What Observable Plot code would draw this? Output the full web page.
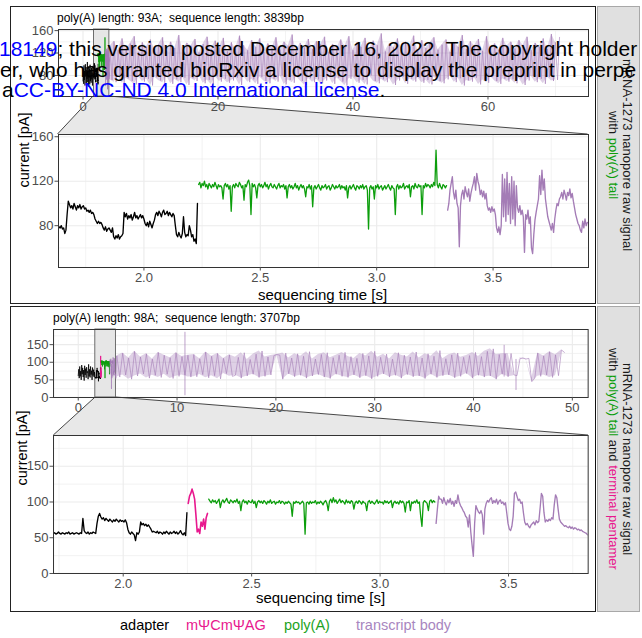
<!DOCTYPE html>
<html><head><meta charset="utf-8">
<script src="https://cdn.jsdelivr.net/npm/d3@7"></script>
<script src="https://cdn.jsdelivr.net/npm/@observablehq/plot@0.6"></script>
<style>
body{margin:0;background:#fff;overflow:hidden;font-family:"Liberation Sans",Arial,sans-serif;}
#root{position:relative;width:642px;height:638px;overflow:hidden;background:#fff;}
.abs{position:absolute;white-space:nowrap;}
</style></head><body><div id="root"></div>
<script>
// ================= DATA =================
const SAMPLE_STEP = 0.005;   // s between samples in the zoomed traces
const PRE_STEP = 0.05;       // s between samples, adapter before zoom window (overview only)
const OVERVIEW_STEP = 0.3;   // s between samples, transcript body after zoom window (overview only)

const segmentLabels = ["adapter", "mΨCmΨAG", "poly(A)", "transcript body"];

// ---- panel 1 : poly(A) 93A ----
const p1Title = "poly(A) length: 93A;  sequence length: 3839bp";
const p1Strip = ["mRNA-1273 nanopore raw signal", "with |poly(A) tail|"];
const p1Window = [1.633, 3.910];
const p1Starts = {pre: 0, adapter: 1.635, polyA: 2.235, body: 3.305, bodyOverview: 4.0};
const p1AdapterPre = [70,92,65,98,72,88,62,100,78,95,66,90,74,104,68,86,60,96,76,92,64,99,70,88,67,94,73,85,62,97,78,80,76];
const p1Adapter = [79,78,80,77,78,73,76, 90,102,
 99,96,98,95,100,97,94,98,96,99,95,97,98,
 95,96,93,94,92,94,91,92,90, 86,84,82, 84,82,83,81,
 78,76,79,75,77,78,76,74,78, 70,68,71,69,72,68,70,71,73, 92,
 88,91,86,89,87,90,85,88,92,87,89,86,88,90,87,89,86,
 82,80,83,79,84,81,78,82,85,
 90,92,89,93,91,88,92,94,90,91,93,89,92,90,88,91,89,
 80,72,70,74,71,69,73, 88, 74,70,72,71,80,76,70,72, 66,68,64, 100];
const p1PolyA = [
 117,119,114,118,116,120,115,117,113,118,116,114,117,115,119,116,113,117,115,116,
 114,104,116,118,115,117,113,116,93,115,117,114,118,116,115,119,117,114,116,103,
 117,115,119,121,116,90,118,115,117,114,105,116,118,115,117,114,116,119,115,117,
 113,116,118,115,114,117,115,113,116,118,114,116,115,117,113,116,105,115,117,114,
 116,113,115,118,114,116,112,115,117,114,116,113,106,115,114,117,113,116,97,114,
 116,113,115,117,114,112,116,114,115,117,113,115,116,112,114,117,115,113,116,114,
 115,117,113,116,114,115,112,116,105,114,116,113,115,117,114,112,116,115,113,116,
 114,117,113,115,116,112,77,114,116,113,115,104,116,114,117,113,115,116,112,114,
 116,113,115,117,114,112,116,114,113,90,115,117,113,116,114,115,118,113,115,116,
 114,117,106,115,116,113,118,115,114,117,115,116,90,116,114,118,115,117,116,114,
 117,115,119,116,148,117,114,118,115,113,117,116,114,116];
const p1Body = [94, 100,112,118, 124, 110,104,112,100,96, 61,
 98,108,112,104,115,110,106,113,102,109,114,
 118,124,112,127,120,116, 108,112,106,111,104,109,
 98,94,96,92,97,93,95,90, 78,74,79,72,80,
 126,88,122,84,128,90,118,82,124,86,120,80,116,
 96,92,98,90,94,88, 56, 90,86,94,82,88, 60,55,72, 85,92,98,104,
 125,108,130,112,122,104, 96,88,84, 80,76,82,74, 86,94,100,98,104,
 106,110,104,112,108,103,110,107,113,105,109,102,
 96,90,86,82,80,76, 74,84,78,86,80,83];
const p1BodyOverview = [
 132,72,141,68,125,80,146,66,128,75,137,70,150,64,122,78,139,69,131,74,
 144,62,127,77,135,71,148,67,124,79,140,65,129,73,152,68,126,76,138,63,
 133,75,145,70,121,81,136,66,149,72,127,64,142,78,130,69,147,74,123,67,
 139,71,128,76,151,63,134,79,125,68,143,73,131,65,146,77,122,70,137,66,
 129,74,148,69,126,80,140,64,133,72,153,67,124,78,138,70,130,63,145,75,
 127,68,141,73,135,66,149,71,122,79,136,65,128,76,144,69,132,62,150,74,
 125,77,139,67,131,72,147,64,126,80,142,70,134,66,155,73,123,68,137,75,
 130,63,146,71,128,78,140,65,133,74,151,69,124,76,143,67,129,72,138,64,
 148,77,126,70,135,66,144,73,122,79,139,68,131,75,152,62,127,71,141,69,
 133,76,145,64,124,72,150,67,130,78,137,70,126,65,147,74,132,69,140,73,
 128,66,143,75,134,63,149,71,125,79,138,68,131,74,146,65,127,77,154,70,
 139,72,148];
const p1Spikes = [];   // [time, low, high]
const p1OverviewX = {domain: [-3.63, 74.89], ticks: [0, 20, 40, 60], minor: [10, 30, 50, 70]};
const p1DetailX = {domain: p1Window, ticks: [2.0, 2.5, 3.0, 3.5], minor: [1.75, 2.25, 2.75, 3.25, 3.75]};
const p1Y = {domain: [42.4, 162], ticks: [80, 120, 160], minor: [60, 100, 140]};

// ---- panel 2 : poly(A) 98A with terminal pentamer ----
const p2Title = "poly(A) length: 98A;  sequence length: 3707bp";
const p2Strip = ["mRNA-1273 nanopore raw signal", "with |poly(A) tail| and ~terminal pentamer~"];
const p2Window = [1.7287, 3.810];
const p2Starts = {pre: 0, adapter: 1.728, pentamer: 2.253, polyA: 2.333, body: 3.218, bodyOverview: 3.9};
const p2AdapterPre = [62,80,55,88,60,75,50,92,66,84,58,78,48,90,64,82,56,86,70,74,52,94,60,80,57,88,65,76,50,85,62,79,58,72,57];
const p2Adapter = [56,57,55,56,58,56,55,57,56,55,57,56,58,55,56,57,55,56,57,56,55,57,56,
 77,60, 57,56,58,55,57,56,58,57,56, 70,80,84,
 79,76,78,74,77,75,73,76,74,72,75,73,76,74,72,75,73,74,72,75,71, 62,
 57,55,58,56,54,46,57,55,58, 72,68,70,67,69,66,68,65, 62,58,59,
 58,57,59,56,58,57,55,58,56,59,57,55,58,56,57,59,56,58,55,57,60,56,54,57, 53,85];
const p2Pentamer = [98,108,112,118,112,104,82,58,62,56,72,66,76,62,78,84];
const p2PolyA = [
 104,101,99,103,100,102,98,101,104,92,100,103,99,102,105,100,98,103,101,99,
 102,100,104,98,101,88,100,103,99,101,97,102,100,99,103,98,101,92,100,102,
 99,101,98,102,100,97,101,99,103,98,100,101,97,100,99,102,98,101,100,97,
 100,98,101,99,97,80,100,98,101,99,100,97,99,101,98,55,99,100,97,101,
 98,100,99,102,97,100,98,101,99,96,100,102,98,88,101,104,99,106,100,103,
 98,101,104,99,102,100,97,103,99,101,98,102,100,90,99,101,98,102,100,97,
 101,99,98,88,100,102,98,101,99,97,100,103,98,101,99,100,97,102,99,101,
 98,100,102,92,99,101,98,100,97,102,99,101,98,86,100,99,102,88,100,98,
 101,99,103,98,100,80,66,99,102,100,98,88,101,103,99,102,100];
const p2Body = [70, 90,108,104, 104,98,106,100,96,103,99,105,97,101,94,102,98, 110,
 100,95,92,88,85,80, 78,65,82,58,40,24,70,95, 90,86,84,88,82, 55,
 90,98,102,100,104, 106,98,102,99,104,97,101,103,98,100,96,99,
 85,70,62, 60,66,80, 112,114,108,102,104, 98,100, 85, 72,68,70,66,64,68,
 70,72,68,74,71,73, 92,112,108,85, 72,75,73,76,74,78,76, 96,110,106,90,76, 72,70,
 68,66,67,65,64,66,63,65,62,64,63,61,62,60,61,59,58,57,56,54];
const p2BodyOverview = [
 118,58,126,64,112,52,131,61,115,67,124,55,109,63,128,57,120,66,113,54,
 127,60,116,64,120,58,122,59,110,65,129,56,117,62,125,53,111,68,121,60,
 63,114,55,127,61,108,66,123,57,132,60,115,64,119,122,120,52,126,67,112,
 59,124,63,117,55,130,61,109,65,122,58,127,54,113,66,120,60,128,57,116,
 64,111,56,125,62,118,53,131,60,114,67,123,58,109,63,127,55,120,65,115,
 59,129,61,112,54,124,66,117,57,133,62,110,64,121,56,126,60,114,68,119,
 55,128,63,116,58,131,61,138,52,122,66,124,59,125,64,62,110,112,109,111,
 45,55,126,60,118,64,130,57,121,62,135,128];
const p2Spikes = [[10.8, 5, 185], [43.1, 58, 148], [44.3, 20, 108]];   // [time, low, high]
const p2OverviewX = {domain: [-2.5, 51.6], ticks: [0, 10, 20, 30, 40, 50], minor: [5, 15, 25, 35, 45]};
const p2DetailX = {domain: p2Window, ticks: [2.0, 2.5, 3.0, 3.5], minor: [1.75, 2.25, 2.75, 3.25, 3.75]};
const p2Y = {domain: [0, 193], ticks: [0, 50, 100, 150], minor: [25, 75, 125, 175]};

const axisTitles = {x: "sequencing time [s]", y: "current [pA]"};
const watermark = [
  [["18149", "#0000ff"], ["; this version posted December 16, 2022. The copyright holder", "#000"]],
  [["er, who has granted bioRxiv a license to display the preprint in perpe", "#000"]],
  [["a", "#000"], ["CC-BY-NC-ND 4.0 International license", "#0000ff"], [".", "#000"]]
];

// ================= STYLE / LAYOUT =================
const COLORS = {adapter: "#000000", pentamer: "#e8188e", polyA: "#0c9e0c", body: "#a47cb6"};
const LEGEND_COLORS = ["#000000", "#e8188e", "#1ea31e", "#a886c0"];
const M = {l: 36, r: 4, t: 4, b: 22};
const LAYOUT = {
  p1: {box: [10, 6, 596, 304], ov: [57.5, 29, 587.5, 96], det: [57.5, 134, 587.5, 267],
       title: [57, 18], yTitle: [24, 150], xTitle: [322.5, 294], strip: [597, 6, 640, 304]},
  p2: {box: [10, 306, 596, 612], ov: [53.3, 329, 588, 397], det: [53.3, 435, 588, 573],
       title: [53, 318], yTitle: [21.5, 448], xTitle: [320.5, 597], strip: [597, 306, 640, 612]}
};
const FONT = '"Liberation Sans", Arial, sans-serif';

// ================= BUILD =================
const root = document.getElementById("root");
const sampled = (t0, step, vals) => vals.map((v, i) => ({t: t0 + i * step, v}));

function div(html, css) {
  const d = document.createElement("div");
  d.className = "abs";
  d.innerHTML = html;
  Object.assign(d.style, css);
  root.appendChild(d);
  return d;
}

function makePlot(rect, o) {
  const [x0, y0, x1, y1] = rect;
  const grid = (vals, w, dim) => (dim === "x" ? Plot.gridX : Plot.gridY)(vals, {stroke: "#ebebeb", strokeOpacity: 1, strokeWidth: w});
  const marks = [grid(o.x.minor, 0.6, "x"), grid(o.y.minor, 0.6, "y"), grid(o.x.ticks, 1.1, "x"), grid(o.y.ticks, 1.1, "y")];
  if (o.window) marks.push(Plot.rect([{a: o.window[0], b: o.window[1], c: o.y.domain[0], d: o.y.domain[1]}],
      {x1: "a", x2: "b", y1: "c", y2: "d", fill: "#e6e6e6", stroke: "#4d4d4d", strokeWidth: 0.8}));
  if (o.band) marks.push(Plot.areaY(o.band.data, {x: "t", y1: "lo", y2: "hi", fill: o.band.color, fillOpacity: 0.35, clip: true}));
  if (o.spikes && o.spikes.data.length) marks.push(Plot.ruleX(o.spikes.data, {x: d => d[0], y1: d => d[1], y2: d => d[2], stroke: o.spikes.color, strokeOpacity: 0.8, strokeWidth: 0.9, clip: true}));
  for (const s of o.series) marks.push(Plot.line(s.data, {x: "t", y: "v", stroke: s.color, strokeWidth: s.width, strokeOpacity: s.opacity, clip: true}));
  marks.push(Plot.frame({stroke: "#333", strokeWidth: 1}));
  marks.push(Plot.axisX(o.x.ticks, {tickSize: 3.5, tickPadding: 1.5, fontSize: o.fs, tickFormat: o.fmt, label: null}));
  marks.push(Plot.axisY(o.y.ticks, {tickSize: 3.5, tickPadding: 1.5, fontSize: o.fs, tickFormat: d => String(d), label: null}));
  const svg = Plot.plot({
    width: M.l + (x1 - x0) + M.r, height: M.t + (y1 - y0) + M.b,
    marginLeft: M.l, marginRight: M.r, marginTop: M.t, marginBottom: M.b,
    x: {domain: o.x.domain, label: null}, y: {domain: o.y.domain, label: null},
    style: {fontFamily: FONT, color: "#4d4d4d", background: "transparent", overflow: "visible"},
    marks
  });
  Object.assign(svg.style, {position: "absolute", left: (x0 - M.l) + "px", top: (y0 - M.t) + "px", maxWidth: "none"});
  root.appendChild(svg);
  return svg;
}

function connector(ov, ovRect, det, detRect, win, ovY, detY) {
  const ox = ov.scale("x"), oy = ov.scale("y"), dx = det.scale("x"), dy = det.scale("y");
  const offO = [ovRect[0] - M.l, ovRect[1] - M.t], offD = [detRect[0] - M.l, detRect[1] - M.t];
  const a = [offO[0] + ox.apply(win[0]), offO[1] + oy.apply(ovY[0])];
  const b = [offO[0] + ox.apply(win[1]), offO[1] + oy.apply(ovY[0])];
  const c = [offD[0] + dx.apply(win[1]), offD[1] + dy.apply(detY[1])];
  const d = [offD[0] + dx.apply(win[0]), offD[1] + dy.apply(detY[1])];
  const svg = d3.create("svg").attr("width", 642).attr("height", 638)
    .style("position", "absolute").style("left", "0px").style("top", "0px");
  svg.append("polygon").attr("points", [a, b, c, d].map(p => p.join(",")).join(" ")).attr("fill", "#e8e8e8");
  svg.append("line").attr("x1", a[0]).attr("y1", a[1]).attr("x2", d[0]).attr("y2", d[1]).attr("stroke", "#333").attr("stroke-width", 0.9);
  svg.append("line").attr("x1", b[0]).attr("y1", b[1]).attr("x2", c[0]).attr("y2", c[1]).attr("stroke", "#333").attr("stroke-width", 0.9);
  root.insertBefore(svg.node(), root.firstChild);
}

function stripHTML(s) {
  return s.replace(/\|([^|]+)\|/g, `<span style="color:${COLORS.polyA}">$1</span>`)
          .replace(/~([^~]+)~/g, `<span style="color:${COLORS.pentamer}">$1</span>`);
}

// pair consecutive overview samples (one high, one low) into a min/max band
function pairBand(pts) {
  const out = [];
  for (let k = 0; k + 1 < pts.length; k += 2) {
    const a = pts[k].v, b = pts[k + 1].v;
    out.push({t: pts[k].t, lo: Math.min(a, b), hi: Math.max(a, b)});
  }
  return out;
}

function buildPanel(L, d) {
  div("", {left: L.box[0] + "px", top: L.box[1] + "px", width: (L.box[2] - L.box[0]) + "px", height: (L.box[3] - L.box[1]) + "px",
           border: "1px solid #222", borderRight: "1.6px solid #111", boxSizing: "border-box"});
  const [sx0, sy0, sx1, sy1] = L.strip;
  div("", {left: sx0 + "px", top: sy0 + "px", width: (sx1 - sx0) + "px", height: (sy1 - sy0) + "px",
           background: "#e0e0e0", border: "1px solid #a8a8a8", boxSizing: "border-box"});
  const H = sy1 - sy0;
  div(d.strip.map(stripHTML).join("<br>"), {left: ((sx0 + sx1) / 2 + 1 - H / 2) + "px", top: ((sy0 + sy1) / 2 - 14) + "px",
      width: H + "px", height: "28px", lineHeight: "14px", fontSize: "13px", textAlign: "center", color: "#1a1a1a",
      transform: "rotate(90deg)", transformOrigin: "50% 50%"});

  const black = sampled(d.starts.adapter, SAMPLE_STEP, d.adapter);
  const green = sampled(d.starts.polyA, SAMPLE_STEP, d.polyA);
  const purple = sampled(d.starts.body, SAMPLE_STEP, d.body);
  const pink = d.pentamer ? sampled(d.starts.pentamer, SAMPLE_STEP, d.pentamer) : null;
  const pre = sampled(d.starts.pre, PRE_STEP, d.pre);
  const post = sampled(d.starts.bodyOverview, OVERVIEW_STEP, d.bodyOverview);

  const ovSeries = [
    {data: pre.concat(black), color: COLORS.adapter, width: 0.8, opacity: 1},
    ...(pink ? [{data: pink, color: COLORS.pentamer, width: 1, opacity: 1}] : []),
    {data: green, color: COLORS.polyA, width: 0.8, opacity: 1},
    {data: purple.concat(post), color: COLORS.body, width: 0.7, opacity: 0.85}
  ];
  const detSeries = [
    {data: black, color: COLORS.adapter, width: 1.35, opacity: 1},
    ...(pink ? [{data: pink, color: COLORS.pentamer, width: 1.6, opacity: 1}] : []),
    {data: green, color: COLORS.polyA, width: 1.3, opacity: 1},
    {data: purple, color: COLORS.body, width: 1.35, opacity: 1}
  ];
  const ov = makePlot(L.ov, {x: d.ovX, y: d.y, window: d.win, band: {data: pairBand(post), color: COLORS.body},
                             spikes: {data: d.spikes, color: COLORS.body},
                             series: ovSeries, fs: 13, fmt: v => String(v)});
  const det = makePlot(L.det, {x: d.detX, y: d.y, series: detSeries, fs: 13, fmt: v => v.toFixed(1)});
  connector(ov, L.ov, det, L.det, d.win, d.y.domain, d.y.domain);

  div(d.title, {left: L.title[0] + "px", top: L.title[1] + "px", transform: "translateY(-50%)", fontSize: "12px", color: "#000", whiteSpace: "pre"});
  div(axisTitles.y, {left: L.yTitle[0] + "px", top: L.yTitle[1] + "px", transform: "translate(-50%,-50%) rotate(-90deg)", fontSize: "14.5px", color: "#000"});
  div(axisTitles.x, {left: L.xTitle[0] + "px", top: L.xTitle[1] + "px", transform: "translate(-50%,-50%)", fontSize: "15px", color: "#000"});
}

buildPanel(LAYOUT.p1, {strip: p1Strip, title: p1Title, starts: p1Starts, win: p1Window,
  pre: p1AdapterPre, adapter: p1Adapter, polyA: p1PolyA, body: p1Body, bodyOverview: p1BodyOverview, spikes: p1Spikes,
  ovX: p1OverviewX, detX: p1DetailX, y: p1Y});
buildPanel(LAYOUT.p2, {strip: p2Strip, title: p2Title, starts: p2Starts, win: p2Window,
  pre: p2AdapterPre, adapter: p2Adapter, pentamer: p2Pentamer, polyA: p2PolyA, body: p2Body, bodyOverview: p2BodyOverview, spikes: p2Spikes,
  ovX: p2OverviewX, detX: p2DetailX, y: p2Y});

// legend
const legendLeft = [120, 186, 284, 356];
segmentLabels.forEach((lab, i) => div(lab, {left: legendLeft[i] + "px", top: "616.5px", fontSize: "14.5px", lineHeight: "17px", color: LEGEND_COLORS[i]}));

// preprint watermark overlay
const wmLeft = [-1, 0, 2], wmTop = [38.2, 59.2, 79.2];
watermark.forEach((parts, i) => div(parts.map(([t, c]) => `<span style="color:${c}">${t}</span>`).join(""),
  {left: wmLeft[i] + "px", top: wmTop[i] + "px", fontSize: "21px", lineHeight: "21px", zIndex: 10}));
</script></body></html>
